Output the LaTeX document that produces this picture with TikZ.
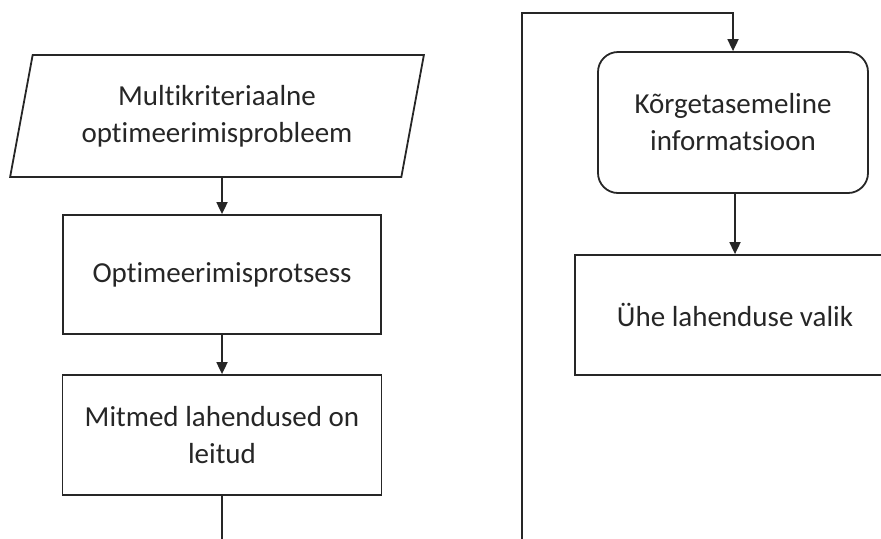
\documentclass[tikz,border=0pt]{standalone}
\usepackage{fontspec}
\setmainfont{Carlito}[Ligatures={NoCommon}]
\usetikzlibrary{arrows.meta,shapes.geometric}

\tikzset{
    box/.style = {draw=black!85, line width=0.9pt, align=center, text=black!85,
        font=\fontsize{14.5}{18.5}\selectfont},
    link/.style = {draw=black!85, line width=0.9pt, -{Triangle[length=6pt,width=5.5pt]}}
}

\begin{document}
\begin{tikzpicture}[x=0.5pt, y=-0.5pt]

        \useasboundingbox (0,0) rectangle (881,538);
        \clip (0,0) rectangle (881,538);

        \node[box, trapezium, trapezium left angle=75, trapezium right angle=105,
            trapezium stretches=true, minimum width=207pt, minimum height=61pt,
            inner sep=0pt] (problem) at (217,116) {Multikriteriaalne\\optimeerimisprobleem};
        \node[box, minimum width=159pt, minimum height=59.5pt] (process) at (222,274.5) {Optimeerimisprotsess};
        \node[box, minimum width=159.5pt, minimum height=60pt] (found) at (222,435) {Mitmed lahendused on\\leitud};

        \node[box, rounded corners=10pt, minimum width=135pt, minimum height=70.5pt] (info) at (733,122.5) {K\~{o}rgetasemeline\\informatsioon};
        \node[box, minimum width=160pt, minimum height=60pt] (choice) at (735,315) {\"Uhe lahenduse valik};

        \coordinate (leftend) at (222,540);
        \coordinate (loopstart) at (522,540);
        \coordinate (looptop) at (522,13);

        \draw[link] (problem.south -| process.north) -- (process.north);
        \draw[link] (process) -- (found);
        \draw[draw=black!85, line width=0.9pt] (found.south) -- (leftend);
        \draw[link] (loopstart) -- (looptop) -| (info.north);
        \draw[link] (info.south -| choice.north) -- (choice.north);

\end{tikzpicture}
\end{document}
